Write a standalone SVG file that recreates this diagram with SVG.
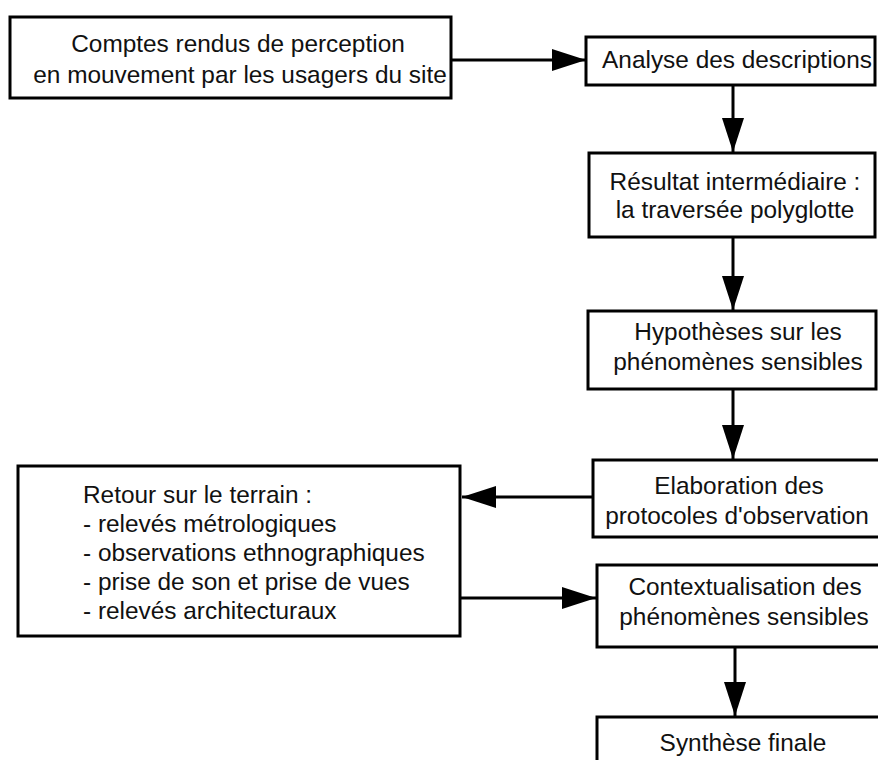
<svg xmlns="http://www.w3.org/2000/svg" width="878" height="760" viewBox="0 0 878 760">
<defs>
<style>
.box{fill:#fff;stroke:#000;stroke-width:3}
.t{font-family:"Liberation Sans",Arial,sans-serif;font-size:24.4px;fill:#111}
.c{text-anchor:middle}
.ln{stroke:#000;stroke-width:3;fill:none}
</style>
<marker id="ah" markerUnits="userSpaceOnUse" markerWidth="36" markerHeight="24" refX="34" refY="11" orient="auto">
<path d="M0,0 L34,11 L0,22 Z" fill="#000"/>
</marker>
</defs>
<rect width="878" height="760" fill="#fff"/>
<g id="connectors">
<line class="ln" x1="451" y1="60" x2="586" y2="60" marker-end="url(#ah)"/>
<line class="ln" x1="733" y1="85" x2="733" y2="152" marker-end="url(#ah)"/>
<line class="ln" x1="733" y1="237" x2="733" y2="310" marker-end="url(#ah)"/>
<line class="ln" x1="733" y1="389" x2="733" y2="459" marker-end="url(#ah)"/>
<line class="ln" x1="593" y1="497" x2="462" y2="497" marker-end="url(#ah)"/>
<line class="ln" x1="460" y1="598" x2="596" y2="598" marker-end="url(#ah)"/>
<line class="ln" x1="735" y1="647" x2="735" y2="716" marker-end="url(#ah)"/>
</g>
<g id="n1">
<rect class="box" x="10" y="17" width="441" height="81"/>
<text class="t c" x="238" y="52">Comptes rendus de perception</text>
<text class="t c" x="240" y="83">en mouvement par les usagers du site</text>
</g>
<g id="n2">
<rect class="box" x="586" y="37" width="289" height="48"/>
<text class="t c" x="737" y="68">Analyse des descriptions</text>
</g>
<g id="n3">
<rect class="box" x="589" y="153" width="286" height="84"/>
<text class="t c" x="735" y="190">Résultat intermédiaire :</text>
<text class="t c" x="735" y="218">la traversée polyglotte</text>
</g>
<g id="n4">
<rect class="box" x="588" y="311" width="288" height="78"/>
<text class="t c" x="738" y="340">Hypothèses sur les</text>
<text class="t c" x="738" y="370">phénomènes sensibles</text>
</g>
<g id="n5">
<rect class="box" x="593" y="460" width="300" height="77"/>
<text class="t c" x="739" y="494">Elaboration des</text>
<text class="t c" x="737" y="524">protocoles d'observation</text>
</g>
<g id="n6">
<rect class="box" x="18" y="466" width="442" height="170"/>
<text class="t" x="83" y="503">Retour sur le terrain :</text>
<text class="t" x="83" y="532">- relevés métrologiques</text>
<text class="t" x="83" y="561">- observations ethnographiques</text>
<text class="t" x="83" y="590">- prise de son et prise de vues</text>
<text class="t" x="83" y="619">- relevés architecturaux</text>
</g>
<g id="n7">
<rect class="box" x="597" y="565" width="300" height="82"/>
<text class="t c" x="745" y="595">Contextualisation des</text>
<text class="t c" x="744" y="625">phénomènes sensibles</text>
</g>
<g id="n8">
<rect class="box" x="597" y="717" width="300" height="70"/>
<text class="t c" x="743" y="751">Synthèse finale</text>
</g>
</svg>
